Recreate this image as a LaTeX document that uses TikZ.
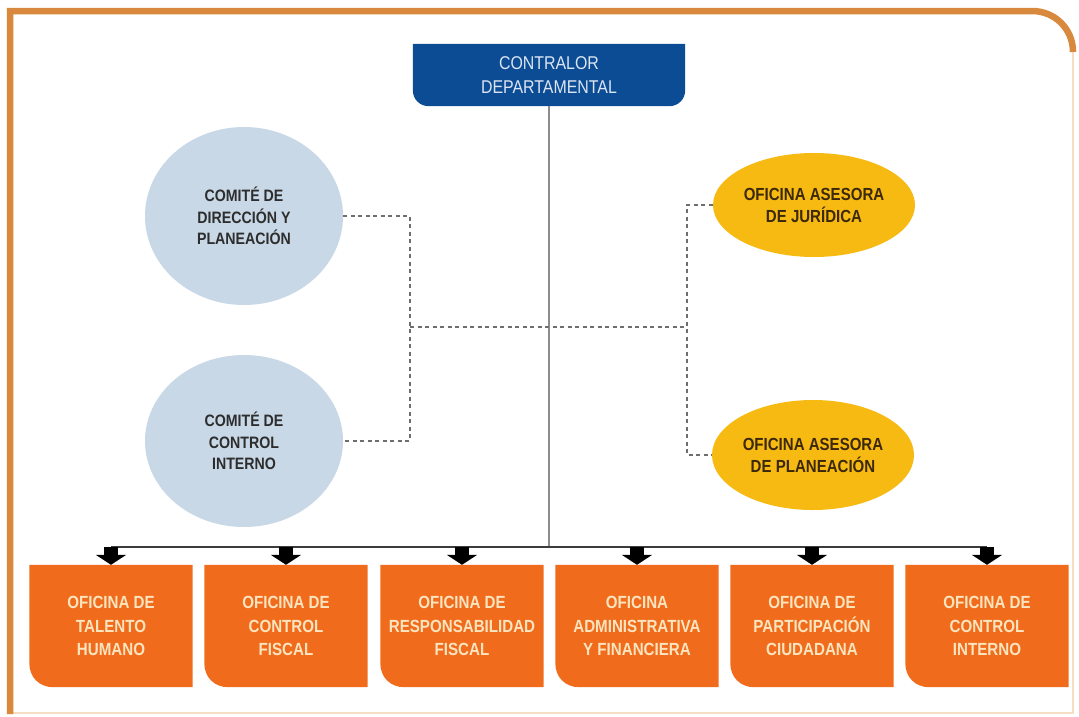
\documentclass[tikz,border=0pt]{standalone}
\usepackage{fontspec}
\setmainfont{Liberation Sans}
\newfontfamily\nar[FakeStretch=0.86]{Liberation Sans}
\usetikzlibrary{arrows.meta,shapes.geometric,backgrounds,calc}
\definecolor{framec}{RGB}{217,137,62}
\definecolor{framelight}{RGB}{246,222,196}
\definecolor{topblue}{RGB}{12,76,148}
\definecolor{ctrltxt}{RGB}{220,230,242}
\definecolor{orangebox}{RGB}{240,108,28}
\definecolor{otext}{RGB}{252,228,190}
\definecolor{cblue}{RGB}{200,216,230}
\definecolor{ctext}{RGB}{45,45,45}
\definecolor{yel}{RGB}{246,186,18}
\definecolor{ytext}{RGB}{60,40,10}
\definecolor{dashgray}{RGB}{110,110,110}
\definecolor{vgray}{RGB}{140,140,140}
\definecolor{busgray}{RGB}{60,60,60}
\begin{document}
\begin{tikzpicture}[x=1pt,y=-1pt,
  ctrltext/.style={font=\nar\fontsize{18.5}{23.5}\selectfont, text=ctrltxt, align=center, inner sep=0pt, minimum width=272pt, minimum height=62pt},
  obox/.style={font=\nar\bfseries\fontsize{17.6}{23.5}\selectfont, text=otext, align=center, inner sep=0pt, minimum width=163pt, minimum height=122pt},
  comite/.style={ellipse, fill=cblue, minimum width=198pt, minimum height=178pt, inner sep=0pt, font=\nar\bfseries\fontsize{16.5}{21.5}\selectfont, text=ctext, align=center},
  asesora/.style={ellipse, fill=yel, minimum width=202pt, minimum height=104pt, inner sep=0pt, font=\nar\bfseries\fontsize{17.5}{22}\selectfont, text=ytext, align=center},
  dashc/.style={draw=dashgray, line width=1.2pt, dash pattern=on 4pt off 3.5pt},
  vline/.style={draw=vgray, line width=2pt},
  busline/.style={draw=busgray, line width=2pt},
  blockarrow/.style={draw=black, line width=14pt, -{Triangle[width=30pt,length=10pt]}},
  framepen/.style={draw=framec, line width=6.5pt},
  framefaint/.style={draw=framelight, line width=2.5pt},
]
\useasboundingbox (0,0) rectangle (1079,716);

% top node
\node[ctrltext] (ctrl) at (549,75) {CONTRALOR\\DEPARTAMENTAL};

% comites
\node[comite] (c1) at (244,216) {COMITÉ DE\\DIRECCIÓN Y\\PLANEACIÓN};
\node[comite, minimum height=172pt] (c2) at (244,441) {COMITÉ DE\\CONTROL\\INTERNO};

% asesoras
\node[asesora] (j) at (814,205) {OFICINA ASESORA\\DE JURÍDICA};
\node[asesora, minimum height=110pt] (p) at (813,455) {OFICINA ASESORA\\DE PLANEACIÓN};

% oficinas
\node[obox] (o1) at (111,626) {OFICINA DE\\TALENTO\\HUMANO};
\node[obox] (o2) at (286,626) {OFICINA DE\\CONTROL\\FISCAL};
\node[obox] (o3) at (462,626) {OFICINA DE\\RESPONSABILIDAD\\FISCAL};
\node[obox] (o4) at (637,626) {OFICINA\\ADMINISTRATIVA\\Y FINANCIERA};
\node[obox] (o5) at (812,626) {OFICINA DE\\PARTICIPACIÓN\\CIUDADANA};
\node[obox] (o6) at (987,626) {OFICINA DE\\CONTROL\\INTERNO};

\begin{scope}[on background layer]
  \fill[white] (0,0) rectangle (1079,716);
  \fill[topblue] (ctrl.north west) -- (ctrl.north east)
    -- ($(ctrl.south east)+(0,-16)$) .. controls ($(ctrl.south east)+(0,-7)$) and ($(ctrl.south east)+(-7,0)$) .. ($(ctrl.south east)+(-16,0)$)
    -- ($(ctrl.south west)+(16,0)$) .. controls ($(ctrl.south west)+(7,0)$) and ($(ctrl.south west)+(0,-7)$) .. ($(ctrl.south west)+(0,-16)$)
    -- cycle;
  \foreach \b in {o1,o2,o3,o4,o5,o6}{
    \fill[orangebox] (\b.north west) -- (\b.north east) -- (\b.south east)
      -- ($(\b.south west)+(24,0)$) .. controls ($(\b.south west)+(10,0)$) and ($(\b.south west)+(0,-10)$) .. ($(\b.south west)+(0,-24)$)
      -- cycle;
  }
  % frame
  \draw[framefaint] (1073,52) -- (1073,713) -- (10,713);
  \draw[framepen] (10,714) -- (10,11) -- (1032,11) .. controls (1055,11) and (1073,29) .. (1073,52);
\end{scope}

% coordinates
\coordinate (bus) at (549,547);
\coordinate (lx) at (410,0);
\coordinate (rx) at (687,0);
\coordinate (mid) at (0,327);
\foreach \b in {o1,o2,o3,o4,o5,o6}{
  \coordinate (a\b) at (\b.north |- bus);
}

% vertical main line
\draw[vline] (ctrl.south) -- (bus);

% dashed staff links
\draw[dashc] (c1.east) -- (c1.east -| lx) -- (c2.east -| lx) -- (c2.east);
\draw[dashc] (lx |- mid) -- (rx |- mid);
\draw[dashc] (j.west) -- (j.west -| rx) -- (p.west -| rx) -- (p.west);

% bus and arrows
\draw[busline] (ao1) -- (ao6);
\foreach \b in {o1,o2,o3,o4,o5,o6}{
  \draw[blockarrow] (a\b) -- (\b.north);
}
\end{tikzpicture}
\end{document}
